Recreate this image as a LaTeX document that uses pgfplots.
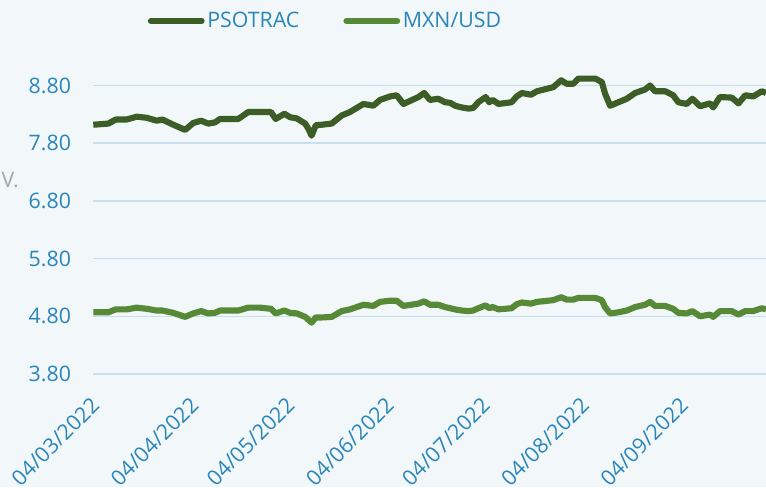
\documentclass[border=0pt]{standalone}
\usepackage{pgfplots}
\pgfplotsset{compat=1.18}
\usepackage{fontspec}
\setmainfont{Open Sans}
\definecolor{bgc}{HTML}{F2F7FA}
\definecolor{gridc}{HTML}{C8E0EE}
\definecolor{txtc}{HTML}{2A86BA}
\definecolor{psoc}{HTML}{3C5D26}
\definecolor{mxnc}{HTML}{578A36}
\begin{document}
\begin{tikzpicture}
\fill[bgc] (-69.75pt,-84.75pt) rectangle (504.75pt,280.5pt);
\begin{axis}[
  at={(0pt,0pt)}, anchor=south west,
  scale only axis, width=504.75pt, height=233.7pt,
  xmin=0, xmax=210.3, ymin=3.8, ymax=9.2,
  axis line style={draw=none},
  ymajorgrids, grid style={gridc, line width=1.1pt},
  ytick={3.8,4.8,5.8,6.8,7.8,8.8},
  yticklabel style={/pgf/number format/fixed, /pgf/number format/precision=2, /pgf/number format/fixed zerofill, txtc, font=\fontsize{16}{19}\selectfont, xshift=-13pt},
  /pgf/number format/assume math mode=true,
  xtick={0,31,61,92,122,153,184},
  xticklabels={04/03/2022,04/04/2022,04/05/2022,04/06/2022,04/07/2022,04/08/2022,04/09/2022},
  xticklabel style={xshift=-2.4pt, yshift=-16.2pt, rotate=45, anchor=north east, txtc, font=\fontsize{16}{19}\selectfont, inner sep=0pt},
  major tick length=0pt, tick style={draw=none},
  ylabel={V.}, ylabel style={rotate=-90, at={(axis description cs:-0.123,0.623)}, anchor=center, gray!70, font=\fontsize{16}{19}\selectfont},
  legend columns=2,
  legend style={draw=none, fill=none, at={(axis description cs:0.346,1.133)}, anchor=center, font=\fontsize{16}{19}\selectfont, text=txtc, /tikz/every even column/.append style={column sep=31pt}, inner sep=0pt},
  legend image code/.code={\draw[#1, line cap=round] (0pt,0pt) -- (38pt,0pt);},
  line join=round,
]
\addplot[psoc, line width=4.6pt] coordinates {
(0.1,8.12)(4.8,8.14)(7.1,8.21)(10.5,8.21)(13.7,8.26)(16.8,8.24)(19.9,8.19)(21.7,8.21)(25.1,8.12)(28.8,8.03)
(31.3,8.15)(33.8,8.19)(36.0,8.14)(38.1,8.16)(39.7,8.22)(45.4,8.22)(48.5,8.34)(52.2,8.34)(55.6,8.34)(57.1,8.22)
(59.8,8.31)(61.6,8.25)(63.7,8.23)(66.3,8.14)(67.3,8.05)(68.3,7.93)(69.6,8.11)(71.5,8.12)(74.6,8.14)(77.7,8.28)
(80.3,8.34)(84.5,8.48)(87.6,8.45)(89.7,8.55)(92.8,8.61)(94.9,8.63)(97.0,8.48)(101.7,8.60)(103.5,8.67)(105.3,8.55)
(107.9,8.57)(110.0,8.51)(111.6,8.50)(113.1,8.45)(115.2,8.42)(117.3,8.40)(118.8,8.41)(120.4,8.51)(122.7,8.60)(123.8,8.51)
(124.9,8.55)(126.7,8.48)(130.8,8.51)(132.4,8.61)(134.0,8.67)(136.9,8.64)(138.7,8.70)(143.8,8.77)(146.3,8.89)(148.0,8.83)
(150.1,8.83)(151.7,8.92)(156.9,8.92)(159.0,8.86)(160.0,8.66)(161.6,8.45)(164.2,8.51)(166.8,8.57)(169.4,8.67)(172.5,8.73)
(174.1,8.80)(175.6,8.70)(178.8,8.70)(181.3,8.63)(182.9,8.51)(185.5,8.48)(187.3,8.57)(189.7,8.44)(192.8,8.49)(193.8,8.42)
(195.9,8.60)(199.6,8.59)(201.7,8.49)(203.8,8.63)(206.3,8.61)(209.0,8.70)(210.3,8.67)
};
\addlegendentry{PSOTRAC}
\addplot[mxnc, line width=4.6pt] coordinates {
(0.1,4.87)(4.8,4.87)(7.1,4.92)(10.5,4.92)(13.7,4.95)(16.8,4.93)(19.9,4.90)(21.7,4.90)(25.1,4.86)(28.8,4.79)
(31.3,4.85)(33.8,4.89)(36.0,4.85)(38.1,4.86)(39.7,4.90)(45.4,4.90)(48.5,4.95)(52.2,4.95)(55.6,4.93)(57.1,4.85)
(59.8,4.90)(61.6,4.86)(63.7,4.85)(66.3,4.79)(67.3,4.74)(68.3,4.69)(69.6,4.78)(71.5,4.78)(74.6,4.79)(77.7,4.89)
(80.3,4.92)(84.5,5.00)(87.6,4.98)(89.7,5.05)(92.8,5.07)(94.9,5.07)(97.0,4.98)(101.7,5.02)(103.5,5.06)(105.3,5.00)
(107.9,5.00)(110.0,4.96)(111.6,4.94)(113.1,4.92)(115.2,4.90)(117.3,4.89)(118.8,4.90)(120.4,4.94)(122.7,4.99)(123.8,4.94)
(124.9,4.96)(126.7,4.92)(130.8,4.94)(132.4,5.01)(134.0,5.04)(136.9,5.02)(138.7,5.05)(143.8,5.08)(146.3,5.13)(148.0,5.09)
(150.1,5.09)(151.7,5.12)(156.9,5.12)(159.0,5.08)(160.0,4.96)(161.6,4.85)(164.2,4.87)(166.8,4.90)(169.4,4.96)(172.5,5.00)
(174.1,5.05)(175.6,4.98)(178.8,4.98)(181.3,4.93)(182.9,4.86)(185.5,4.85)(187.3,4.89)(189.7,4.80)(192.8,4.83)(193.8,4.79)
(195.9,4.89)(199.6,4.89)(201.7,4.83)(203.8,4.89)(206.3,4.89)(209.0,4.94)(210.3,4.92)
};
\addlegendentry{MXN/USD}
\end{axis}
\pgfresetboundingbox
\path[use as bounding box] (-69.75pt,-84.75pt) rectangle (504.75pt,280.5pt);
\end{tikzpicture}
\end{document}
